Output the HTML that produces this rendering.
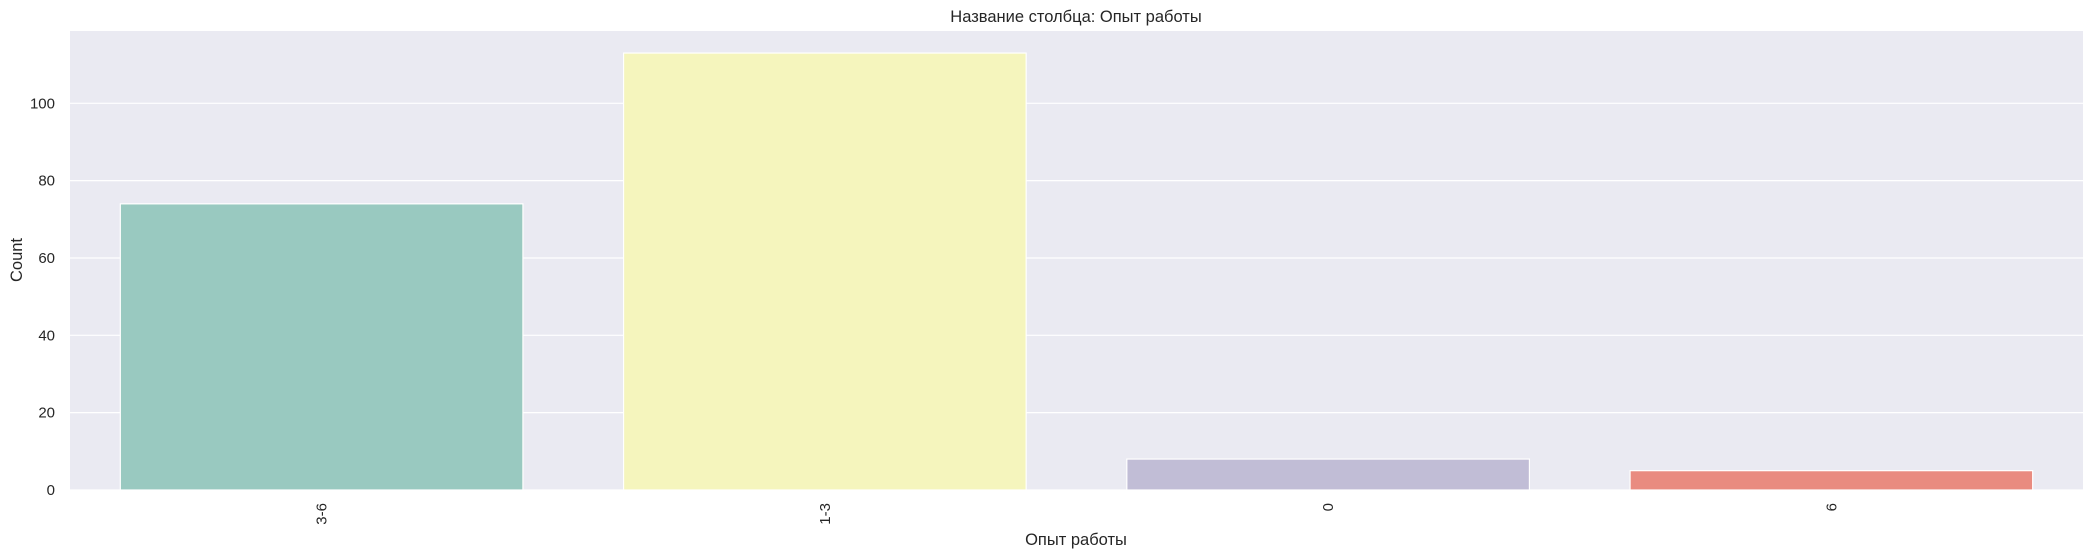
<!DOCTYPE html>
<html><head><meta charset="utf-8"><style>
html,body{margin:0;padding:0;background:#fff;}
svg{display:block;font-family:"Liberation Sans","DejaVu Sans",sans-serif;}
</style></head><body>
<svg id="chart" width="2094" height="558" viewBox="0 0 2094 558">
<rect x="70" y="31" width="2013" height="459" fill="#eaeaf2"/>
<g id="grid"></g>
<g id="bars"></g>
<g id="yticks"></g>
<g id="xticks"></g>
<text x="1076" y="22" font-size="16.5" text-anchor="middle" fill="#262626">Название столбца: Опыт работы</text>
<text x="1076" y="545" font-size="16.5" text-anchor="middle" fill="#262626">Опыт работы</text>
<text transform="translate(22,260) rotate(-90)" font-size="16.5" text-anchor="middle" fill="#262626">Count</text>
</svg>
<script>
const categories = ["3-6", "1-3", "0", "6"];
const counts = [74, 113, 8, 5];
const colors = ["#99c9c0", "#f5f5bd", "#c1bdd6", "#e98b80"];
const yTicks = [0, 20, 40, 60, 80, 100];

const NS = "http://www.w3.org/2000/svg";
const L = 70, R = 2083, T = 31, B = 490;
const yMax = 118.7;
function y(v){ return B - v / yMax * (B - T); }
const band = (R - L) / categories.length;
function xc(i){ return L + band * (i + 0.5); }

const grid = document.getElementById('grid');
const yt = document.getElementById('yticks');
yTicks.forEach(v => {
  const ln = document.createElementNS(NS, 'line');
  ln.setAttribute('x1', L); ln.setAttribute('x2', R);
  ln.setAttribute('y1', y(v)); ln.setAttribute('y2', y(v));
  ln.setAttribute('stroke', '#fff'); ln.setAttribute('stroke-width', '1.2');
  
  
  grid.appendChild(ln);
  const t = document.createElementNS(NS, 'text');
  t.setAttribute('x', 55); t.setAttribute('y', y(v) + 5);
  t.setAttribute('font-size', '15'); t.setAttribute('text-anchor', 'end'); t.setAttribute('fill', '#262626');
  t.textContent = v;
  
  
  yt.appendChild(t);
});

const bars = document.getElementById('bars');
const xt = document.getElementById('xticks');
categories.forEach((c, i) => {
  const w = band * 0.8;
  const r = document.createElementNS(NS, 'rect');
  r.setAttribute('x', xc(i) - w / 2); r.setAttribute('width', w);
  r.setAttribute('y', y(counts[i])); r.setAttribute('height', B - y(counts[i]));
  r.setAttribute('fill', colors[i]); r.setAttribute('stroke', '#fff'); r.setAttribute('stroke-width', '1.2');
  
  
  bars.appendChild(r);
  const t = document.createElementNS(NS, 'text');
  t.setAttribute('transform', 'translate(' + (xc(i) + 5) + ',503) rotate(-90)');
  t.setAttribute('font-size', '15'); t.setAttribute('text-anchor', 'end'); t.setAttribute('fill', '#262626');
  t.textContent = c;
  
  
  xt.appendChild(t);
});
</script>
</body></html>
